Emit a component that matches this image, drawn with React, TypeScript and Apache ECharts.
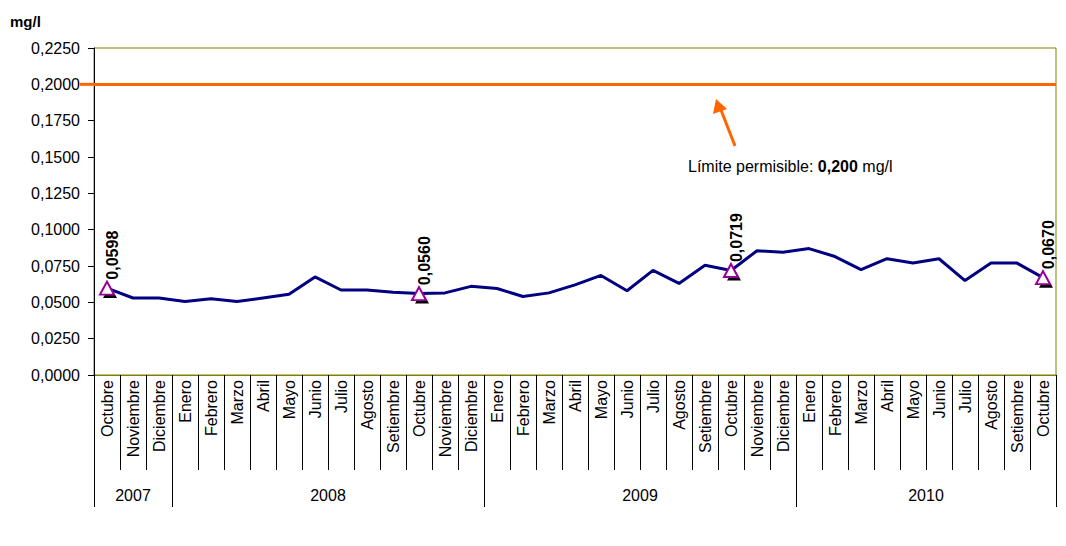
import React, { useEffect, useRef } from 'react';
import * as echarts from 'echarts';

const years = ['2007', '2008', '2009', '2010'];
const monthsPerYear = [3, 12, 12, 10];
const months = [
  'Octubre', 'Noviembre', 'Diciembre',
  'Enero', 'Febrero', 'Marzo', 'Abril', 'Mayo', 'Junio', 'Julio', 'Agosto', 'Setiembre', 'Octubre', 'Noviembre', 'Diciembre',
  'Enero', 'Febrero', 'Marzo', 'Abril', 'Mayo', 'Junio', 'Julio', 'Agosto', 'Setiembre', 'Octubre', 'Noviembre', 'Diciembre',
  'Enero', 'Febrero', 'Marzo', 'Abril', 'Mayo', 'Junio', 'Julio', 'Agosto', 'Setiembre', 'Octubre',
];
const values = [
  0.0598, 0.0530, 0.0530,
  0.0505, 0.0525, 0.0505, 0.0530, 0.0555, 0.0675, 0.0585, 0.0585, 0.0570, 0.0560, 0.0565, 0.0610,
  0.0595, 0.0540, 0.0565, 0.0620, 0.0685, 0.0580, 0.0720, 0.0630, 0.0755, 0.0719, 0.0855, 0.0845,
  0.0870, 0.0815, 0.0725, 0.0800, 0.0770, 0.0800, 0.0650, 0.0770, 0.0770, 0.0670,
];
const highlightedIdx = [0, 12, 24, 36];
const limitValue = 0.2;
const yMin = 0;
const yMax = 0.225;
const yInterval = 0.025;
const unitLabel = 'mg/l';

const FONT = '"Liberation Sans", Arial, sans-serif';
const FS = 16;
const fmt = (v: number) => v.toFixed(4).replace('.', ',');

export default function App() {
  const ref = useRef<HTMLDivElement>(null);

  useEffect(() => {
    document.body.style.margin = '0';
    if (!ref.current) return;
    const chart = echarts.init(ref.current, null, { renderer: 'svg' });

    const categories = months.map((m, i) => `${i}|${m}`);
    const starts: number[] = [];
    let acc = 0;
    monthsPerYear.forEach((n) => { starts.push(acc); acc += n; });
    const yearLabelAt: Record<number, string> = {};
    starts.forEach((s, k) => {
      const mid = s + (monthsPerYear[k] - 1) / 2;
      if (Number.isInteger(mid)) yearLabelAt[mid] = `{c|${years[k]}}`;
      else yearLabelAt[Math.floor(mid)] = `{h|${years[k]}}`;
    });

    const gridLeft = 94;
    const gridRight = 10;
    const band = (1066 - gridLeft - gridRight) / categories.length;

    chart.setOption({
      animation: false,
      backgroundColor: '#fff',
      textStyle: { fontFamily: FONT },
      grid: {
        left: gridLeft, right: gridRight, top: 48, bottom: 171,
        show: true, borderColor: '#808000', borderWidth: 1, backgroundColor: '#fff',
      },
      xAxis: [
        {
          type: 'category', position: 'bottom', data: categories, boundaryGap: true,
          axisLine: { show: true, lineStyle: { color: '#808000', width: 1 } },
          axisTick: { show: true, length: 95, lineStyle: { color: '#000', width: 1 } },
          axisLabel: {
            interval: 0, rotate: 90, margin: 5, fontSize: FS, color: '#000', fontFamily: FONT,
            formatter: (v: string) => v.split('|')[1],
          },
          splitLine: { show: false },
        },
        {
          type: 'category', position: 'bottom', data: categories, boundaryGap: true,
          axisLine: { show: false },
          axisTick: {
            show: true, length: 132, lineStyle: { color: '#000', width: 1 },
            interval: (index: number) => starts.includes(index),
          },
          axisLabel: {
            interval: 0, margin: 112, color: '#000', fontFamily: FONT, fontSize: FS,
            formatter: (_v: string, index: number) => yearLabelAt[index] || '',
            rich: {
              c: { fontSize: FS, color: '#000', fontFamily: FONT },
              h: { fontSize: FS, color: '#000', fontFamily: FONT, padding: [0, 0, 0, band] },
            },
          },
          splitLine: { show: false },
        },
      ],
      yAxis: {
        type: 'value', min: yMin, max: yMax, interval: yInterval,
        axisLine: { show: true, lineStyle: { color: '#000', width: 1 } },
        axisTick: { show: true, length: 6, lineStyle: { color: '#000' } },
        axisLabel: { margin: 14, fontSize: FS, color: '#000', fontFamily: FONT, formatter: (v: number) => fmt(v) },
        splitLine: { show: false },
      },
      series: [
        {
          type: 'line', data: values, xAxisIndex: 0,
          showSymbol: false, symbol: 'none',
          lineStyle: { color: '#000080', width: 3 },
          z: 2,
          markLine: {
            silent: true, symbol: ['none', 'none'], label: { show: false },
            lineStyle: { color: '#FF6600', width: 3, type: 'solid' },
            data: [{ yAxis: limitValue }],
            z: 1,
          },
        },
        {
          type: 'scatter', xAxisIndex: 0,
          data: highlightedIdx.map((i) => [i, values[i]]),
          symbol: 'triangle', symbolSize: [14, 12], symbolOffset: [3, 4],
          itemStyle: { color: '#000', opacity: 1 },
          z: 3,
        },
        {
          type: 'scatter', xAxisIndex: 0,
          data: highlightedIdx.map((i) => [i, values[i]]),
          symbol: 'triangle', symbolSize: [14, 13],
          itemStyle: { color: '#fff', borderColor: '#990099', borderWidth: 2, opacity: 1 },
          label: {
            show: true, position: 'top', rotate: 90, align: 'left', verticalAlign: 'middle',
            distance: 1, offset: [0, 5],
            fontSize: FS, fontWeight: 'bold', color: '#000', fontFamily: FONT,
            formatter: (p: any) => fmt(p.value[1]),
          },
          z: 4,
        },
      ],
    });

    const yLimit = chart.convertToPixel({ yAxisIndex: 0 }, limitValue) as number;
    chart.setOption({
      graphic: [
        {
          type: 'text', left: 10, top: 14,
          style: { text: unitLabel, fontSize: 15, fontWeight: 'bold', fill: '#000', fontFamily: FONT },
        },
        {
          type: 'line', shape: { x1: 80, y1: yLimit, x2: gridLeft, y2: yLimit },
          style: { stroke: '#FF6600', lineWidth: 3 }, z: 10,
        },
        {
          type: 'line', shape: { x1: 735, y1: 146, x2: 721, y2: 110 },
          style: { stroke: '#FF6600', lineWidth: 3 }, z: 10,
        },
        {
          type: 'polygon', shape: { points: [[716, 99], [713, 114], [727, 109]] },
          style: { fill: '#FF6600' }, z: 10,
        },
        {
          type: 'text', x: 688, y: 166,
          style: {
            text: '{n|Límite permisible: }{b|0,200}{n| mg/l}',
            verticalAlign: 'middle',
            rich: {
              n: { fontSize: FS, color: '#000', fontFamily: FONT },
              b: { fontSize: FS, fontWeight: 'bold', color: '#000', fontFamily: FONT },
            },
          },
          z: 10,
        },
      ],
    });

    return () => chart.dispose();
  }, []);

  return <div ref={ref} style={{ width: 1066, height: 546 }} />;
}
